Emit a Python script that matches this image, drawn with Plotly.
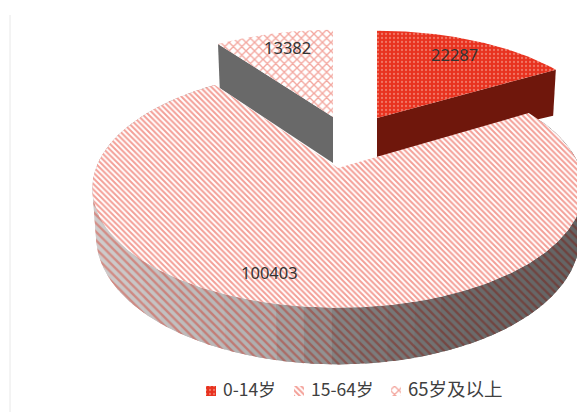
import numpy as np
import plotly.graph_objects as go

categories = ["0-14岁", "15-64岁", "65岁及以上"]
values = [22287, 100403, 13382]

W, H = 577, 412
P = 0.17      # perspective strength
TAPER = 0.985  # lower rim is drawn slightly toward the apex
# slice geometry in screen pixels: apex x, apex y, rx, ry, depth at apex, depth at rim
geom = {
    0: (377, 118, 227, 102, 39, 46),
    1: (338, 168, 242, 116, 47, 47),
    2: (333, 117, 226, 102, 46, 44),
}
tops = [
    dict(shape=".", bgcolor="#e8321f", fgcolor="#f8b8a8", size=4, solidity=0.25),
    dict(shape="\\", bgcolor="#ffffff", fgcolor="#e8402f", size=4, solidity=0.5),
    dict(shape="x", bgcolor="#ffffff", fgcolor="#e8503f", size=6, solidity=0.4),
]
side_solid = {0: "#6f170c", 2: "#696969"}

# shading of the big slice's wall, left to right across the picture
shade_x = [92, 250, 340, 450, 577]
shade_bg = [(208, 204, 204), (176, 176, 176), (128, 128, 128), (108, 108, 108), (100, 100, 100)]
shade_fg = [(214, 80, 66), (200, 60, 48), (138, 42, 32), (122, 34, 26), (118, 32, 24)]

total = sum(values)
angles = np.cumsum([0] + values) / total * 2 * np.pi


def rim(i, th):
    cx, cy, rx, ry, _, _ = geom[i]
    s = 1 / (1 + P * np.cos(th))
    return cx + rx * np.sin(th) * s, cy - ry * np.cos(th) * s, s


def hexcol(table, x):
    c = [int(round(np.interp(x, shade_x, [t[k] for t in table]))) for k in range(3)]
    return "#%02x%02x%02x" % tuple(c)


fig = go.Figure()


def poly(x, y, **kw):
    fig.add_trace(go.Scatter(x=x, y=y, mode="lines", line=dict(width=0, color="rgba(0,0,0,0)"),
                             fill="toself", hoverinfo="skip", showlegend=False, **kw))


for i in [2, 0, 1]:
    th = np.linspace(angles[i], angles[i + 1], 240)
    px, py, s = rim(i, th)
    cx, cy, _, _, d0, d1 = geom[i]
    if i == 1:
        # wall of the large slice, split into overlapping bands so that its shading can change
        for lo in range(0, 239, 5):
            idx = np.arange(lo, min(lo + 9, 239) + 1)
            a, b = px[idx], py[idx]
            low_x = cx + (a - cx) * TAPER
            low_y = b + d1 * s[idx]
            mid = float(a.mean())
            poly(np.r_[a, low_x[::-1]], np.r_[b, low_y[::-1]],
                 fillcolor=hexcol(shade_bg, mid),
                 fillpattern=dict(shape="\\", bgcolor=hexcol(shade_bg, mid), fgcolor=hexcol(shade_fg, mid),
                                  size=6, solidity=0.4))
    else:
        # the cut face that looks toward the viewer
        e = -1 if i == 0 else 0
        ex, ey = px[e], py[e]
        poly(np.array([cx, ex, cx + (ex - cx) * TAPER, cx]),
             np.array([cy, ey, ey + d1, cy + d0]), fillcolor=side_solid[i])
    poly(np.r_[cx, px], np.r_[cy, py], name=categories[i],
         fillpattern=tops[i], fillcolor=tops[i]["bgcolor"])

label_pos = [(454, 54), (269, 272), (287, 47)]
annotations = [dict(x=p[0], y=p[1], xref="x", yref="y", text=str(v), showarrow=False,
                    font=dict(family="Noto Sans", size=16.5, color="#333333"))
               for p, v in zip(label_pos, values)]

# legend: small patterned swatch followed by its label
legend_swatch_x = [206, 294, 391]
legend_text_x = [221, 309, 406]
legend_font = [17.5, 17.5, 18.5]
legend_y = 388
swatch_y = 391
for i, x0 in enumerate(legend_swatch_x):
    poly([x0, x0 + 10, x0 + 10, x0, x0], [swatch_y - 5, swatch_y - 5, swatch_y + 5, swatch_y + 5, swatch_y - 5],
         name=categories[i], fillpattern=tops[i], fillcolor=tops[i]["bgcolor"])
    annotations.append(dict(x=legend_text_x[i], y=legend_y, xref="x", yref="y", xanchor="left", text=categories[i],
                            showarrow=False,
                            font=dict(family="Noto Sans CJK SC", size=legend_font[i], color="#404040")))

fig.update_layout(
    width=W, height=H, margin=dict(l=0, r=0, t=0, b=0),
    paper_bgcolor="white", plot_bgcolor="white",
    xaxis=dict(range=[0, W], visible=False, fixedrange=True),
    yaxis=dict(range=[H, 0], visible=False, fixedrange=True),
    annotations=annotations,
    showlegend=False,
    shapes=[dict(type="line", xref="x", yref="y", x0=10, x1=10, y0=15, y1=H,
                 line=dict(color="#e8e8e8", width=1))],
)
fig.write_html("out.html", post_script="document.body.style.margin='0';document.documentElement.style.overflow='hidden';",
               config={"displayModeBar": False})
